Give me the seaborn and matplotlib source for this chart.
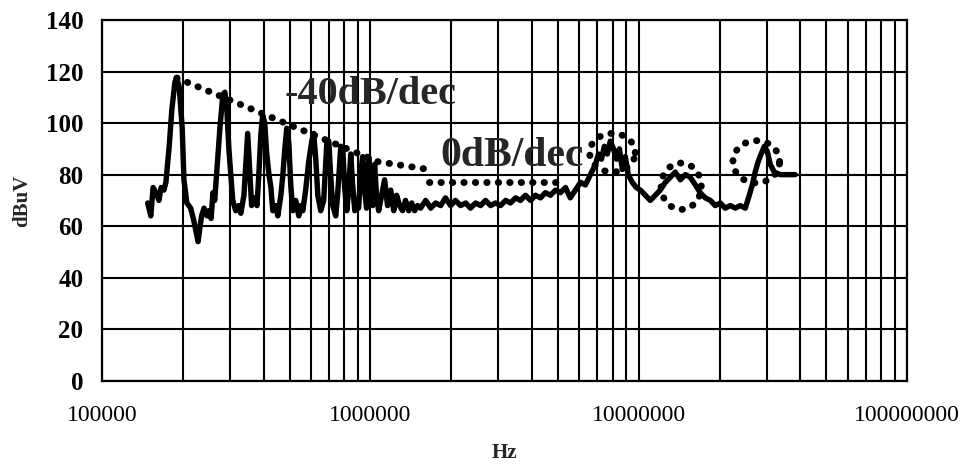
import numpy as np
import pandas as pd
import matplotlib
matplotlib.use("Agg")
import matplotlib.pyplot as plt
from matplotlib.ticker import LogLocator, FuncFormatter, FixedLocator
import seaborn as sns

# Measured conducted emission spectrum
freq_hz = [
    148000, 152000, 155000, 159000, 163000, 166000, 170000, 173000, 178000, 182000,
    187000, 190000, 194000, 199000, 202000, 207000, 214000, 220000, 224000, 228000,
    232000, 235000, 240000, 246000, 250000, 255000, 259000, 263000, 268000, 275000,
    282000, 287000, 292000, 297000, 302000, 307000, 315000, 323000, 329000, 338000,
    344000, 349000, 356000, 361000, 371000, 378000, 384000, 391000, 397000, 404000,
    411000, 419000, 426000, 433000, 444000, 452000, 464000, 472000, 480000, 488000,
    497000, 505000, 514000, 527000, 541000, 551000, 560000, 574000, 589000, 605000,
    615000, 626000, 637000, 653000, 670000, 688000, 700000, 711000, 724000, 743000,
    755000, 776000, 789000, 802000, 817000, 830000, 845000, 859000, 875000, 889000,
    904000, 920000, 936000, 952000, 968000, 986000, 1002000, 1021000, 1037000, 1054000,
    1074000, 1102000, 1130000, 1159000, 1191000, 1222000, 1253000, 1285000, 1318000, 1352000,
    1390000, 1425000, 1462000, 1500000, 1538000, 1607000, 1679000, 1750000, 1828000, 1905000,
    1991000, 2075000, 2168000, 2265000, 2360000, 2466000, 2576000, 2685000, 2805000, 2924000,
    3055000, 3192000, 3327000, 3475000, 3622000, 3784000, 3954000, 4121000, 4305000, 4487000,
    4688000, 4898000, 5105000, 5333000, 5559000, 5808000, 6067000, 6324000, 6607000, 6902000,
    7079000, 7261000, 7447000, 7638000, 7834000, 8054000, 8260000, 8472000, 8690000, 8913000,
    9141000, 9462000, 9795000, 10140000, 10590000, 11040000, 11530000, 12020000, 12560000, 13120000,
    13680000, 14290000, 14930000, 15560000, 16260000, 16940000, 17700000, 18490000, 19280000, 20140000,
    20990000, 21930000, 22910000, 23880000, 24950000, 25820000, 26490000, 27160000, 27860000, 28580000,
    29380000, 30130000, 30900000, 31990000, 33650000, 35730000, 38280000,
]
level_dbuv = [
    69, 64, 75, 73, 70, 75, 74, 77, 91, 105,
    116, 117.5, 114, 98, 78, 69, 67, 62, 58, 54,
    60, 64, 67, 64, 66, 63, 73, 70, 82, 98,
    111, 112, 105, 90, 80, 70, 66, 68, 65, 72,
    85, 96, 80, 68, 71, 68, 80, 96, 103, 100,
    88, 80, 75, 66, 68, 64, 72, 80, 90, 98,
    92, 76, 66, 70, 64, 68, 66, 74, 85, 93,
    96, 86, 72, 66, 70, 92, 93, 80, 68, 64,
    72, 91, 90, 75, 66, 74, 88, 76, 66, 70,
    67, 80, 87, 74, 67, 87, 74, 68, 84, 72,
    66, 72, 78, 68, 74, 66, 72, 68, 66, 70,
    66, 69, 66, 68, 67, 70, 67, 69, 68, 71,
    68, 70, 68, 69, 67, 69, 68, 70, 68, 69,
    68, 70, 69, 71, 70, 72, 70, 72, 71, 73,
    72, 74, 73, 75, 71, 74, 77, 76, 80, 84,
    88, 86, 91, 88, 93, 90, 86, 90, 82, 87,
    80, 77, 75, 74, 72, 70, 72, 74, 77, 79,
    81, 78, 80, 79, 76, 73, 71, 70, 68, 69,
    67, 68, 67, 68, 67, 72, 76, 81, 85, 88,
    91, 89, 84, 81, 80, 80, 80,
]

# Envelope guides: -40 dB/decade slope, then flat
slope_hz = [190000, 1070000, 1650000]
slope_db = [117.5, 85, 82]
flat_hz = [1650000, 5100000]
flat_db = [77, 77]

# Highlighted regions (centre log10 f, centre dB, half-width in decades, half-height in dB)
ring_centres_logf = [6.902, 7.158, 7.438]
ring_centres_db = [88.5, 75.5, 85.0]
ring_half_dec = [0.085, 0.075, 0.087]
ring_half_db = [7.5, 9.0, 8.2]

x_tick_vals = [1e5, 1e6, 1e7, 1e8]
y_tick_vals = [0, 20, 40, 60, 80, 100, 120, 140]

sns.set_style("white")
plt.rcParams["font.family"] = ["Liberation Serif", "DejaVu Serif"]

fig = plt.figure(figsize=(9.65, 4.65), dpi=100)
ax = fig.add_axes([0.1057, 0.181, 0.8343, 0.776])

df = pd.DataFrame({"Hz": freq_hz, "dBuV": level_dbuv})
sns.lineplot(data=df, x="Hz", y="dBuV", ax=ax, color="black", linewidth=3.9,
             sort=False, estimator=None, zorder=5)

dot = (0, (0.05, 1.6))
for xs, ys in ((slope_hz, slope_db), (flat_hz, flat_db)):
    ax.plot(xs, ys, color="black", lw=5, linestyle=dot,
            dash_capstyle="round", zorder=6)

t = np.linspace(0, 2 * np.pi, 200)
for cx, cy, a, b in zip(ring_centres_logf, ring_centres_db, ring_half_dec, ring_half_db):
    ax.plot(10 ** (cx + a * np.cos(t)), cy + b * np.sin(t), color="black", lw=5,
            linestyle=dot, dash_capstyle="round", zorder=6)

ax.set_xscale("log")
ax.set_xlim(1e5, 1e8)
ax.set_ylim(0, 140)

ax.xaxis.set_major_locator(FixedLocator(x_tick_vals))
ax.xaxis.set_minor_locator(LogLocator(base=10, subs=np.arange(2, 10), numticks=20))
ax.xaxis.set_major_formatter(FuncFormatter(lambda v, p: f"{int(round(v))}"))
ax.xaxis.set_minor_formatter(FuncFormatter(lambda v, p: ""))
ax.yaxis.set_major_locator(FixedLocator(y_tick_vals))

ax.grid(True, which="both", axis="x", color="black", linewidth=1.5)
ax.grid(True, which="major", axis="y", color="black", linewidth=1.5)
ax.set_axisbelow(True)

for s in ax.spines.values():
    s.set_visible(True)
    s.set_color("black")
    s.set_linewidth(1.6)

ax.tick_params(axis="both", which="major", direction="inout", length=11, width=1.4,
               colors="black")
ax.tick_params(axis="x", which="minor", length=0)
ax.tick_params(axis="x", which="major", pad=12, labelsize=17)
ax.tick_params(axis="y", which="major", pad=8, labelsize=18)
for lab in ax.get_yticklabels():
    lab.set_fontweight("bold")

ax.set_xlabel("Hz", fontsize=15, fontweight="bold", labelpad=12)
ax.set_ylabel("dBuV", fontsize=15, fontweight="bold", labelpad=10)

ax.text(4.8e5, 107.5, "-40dB/dec", fontsize=29, fontweight="bold", ha="left",
        va="baseline", zorder=7)
ax.text(1.83e6, 83.5, "0dB/dec", fontsize=30, fontweight="bold", ha="left",
        va="baseline", zorder=7)

fig.savefig("out.png", dpi=100)
